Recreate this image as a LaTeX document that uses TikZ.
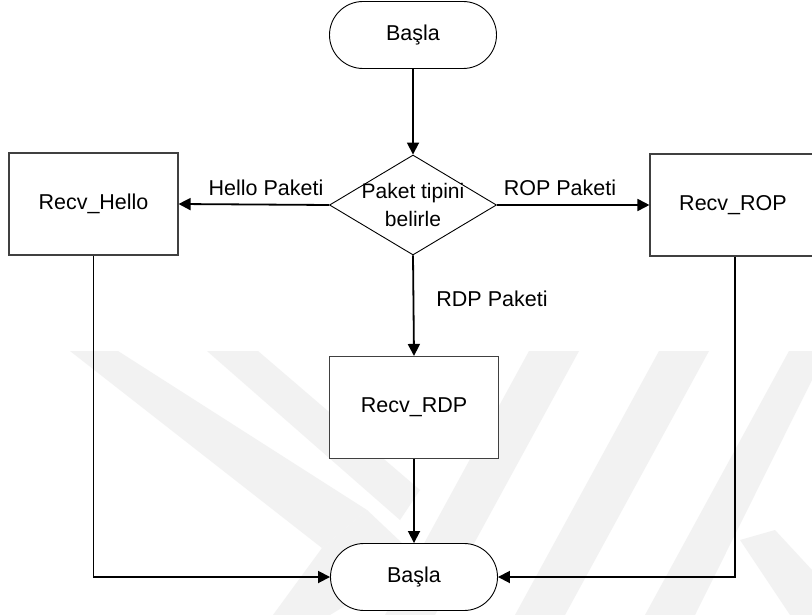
\documentclass[tikz,border=0pt]{standalone}
\usepackage{fontspec}
\setmainfont{Liberation Sans}
\usetikzlibrary{shapes.geometric,shapes.misc,arrows.meta}

\begin{document}
\begin{tikzpicture}[x=1pt,y=-1pt,
  every node/.style={font=\fontsize{21.5}{25}\selectfont, inner sep=0pt},
  terminal/.style={draw=black, line width=0.9pt, rounded rectangle,
    minimum width=167pt, minimum height=67pt, fill=white},
  procbox/.style={draw=black!75, line width=1.1pt, rectangle,
    minimum width=169pt, minimum height=102pt, fill=white},
  decision/.style={draw=black, line width=0.9pt, diamond, aspect=1.67,
    minimum width=167pt, minimum height=100pt, align=center, fill=white,
    font=\fontsize{21}{24}\selectfont},
  flow/.style={draw=black, line width=1.8pt,
    -{Triangle[length=12pt,width=12pt]}},
  edgelabel/.style={fill=none}
]
  \path[clip] (0,0) rectangle (812,615);
  \fill[white] (0,0) rectangle (812,615);

  % faint background bands
  \begin{scope}[fill=black!5]
    \fill (70,351) -- (118,351) -- (367,510) -- (322,548) -- cycle;
    \fill (207,351) -- (258,351) -- (420,490) -- (400,520) -- cycle;
    \fill (322,548) -- (367,510) -- (420,560) -- (330,615) -- (273,615) -- cycle;
    \fill (529,351) -- (579,351) -- (435,615) -- (385,615) -- cycle;
    \fill (659,351) -- (709,351) -- (565,615) -- (515,615) -- cycle;
    \fill (789,351) -- (812,351) -- (812,380) -- (695,615) -- (645,615) -- cycle;
    \fill (740,540) -- (775,530) -- (812,570) -- (812,615) -- (790,615) -- cycle;
  \end{scope}

  % nodes
  \node[terminal] (start) at (413,35) {Başla};
  \node[decision] (dec) at (413,205) {};
  \node at (413,193) {\fontsize{21}{24}\selectfont Paket tipini};
  \node at (413,219) {\fontsize{21}{24}\selectfont belirle};
  \node[procbox] (hello) at (93.5,204) {Recv\_Hello};
  \node[procbox, minimum width=170pt] (rop) at (735,205) {};
  \node at (733,205) {Recv\_ROP};
  \node[procbox] (rdp) at (414,407.5) {Recv\_RDP};
  \node[terminal] (end) at (414,577) {Başla};

  % edge labels
  \node[edgelabel] (lhello) at (266,188) {Hello Paketi};
  \node[edgelabel] (lrop) at (560,188) {ROP Paketi};
  \node[edgelabel] (lrdp) at (492,299) {RDP Paketi};

  % connectors
  \draw[flow] (start) -- (dec.north);
  \draw[flow] (dec.west) -- (hello.east);
  \draw[flow] (dec.east) -- (rop.west);
  \draw[flow] (dec.south) -- (rdp.north);
  \draw[flow] (rdp) -- (end);
  \draw[flow] (hello.south) |- (end.west);
  \draw[flow] (rop.south) |- (end.east);
\end{tikzpicture}
\end{document}
